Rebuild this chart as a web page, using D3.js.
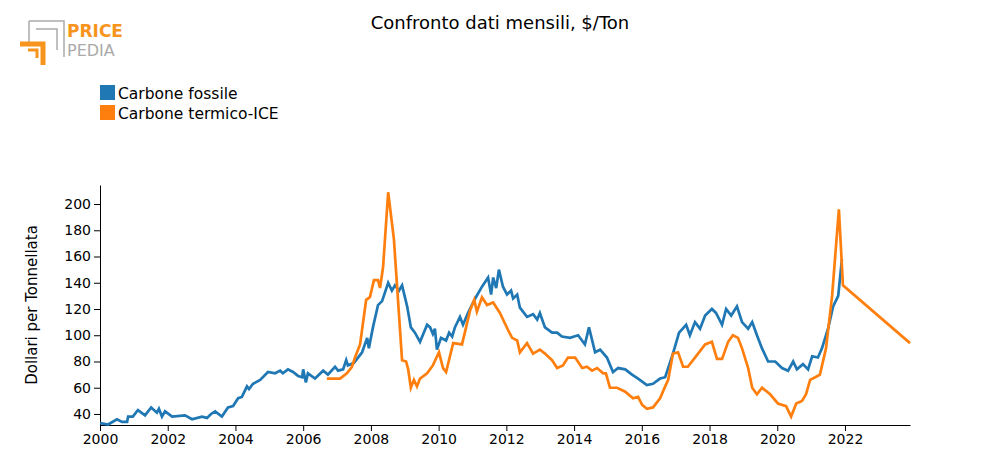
<!DOCTYPE html>
<html><head><meta charset="utf-8">
<script src="https://cdn.jsdelivr.net/npm/d3@7"></script>
<style>body{margin:0;background:#fff;font-family:"DejaVu Sans",sans-serif}</style>
</head><body><svg id="c" width="1000" height="475"></svg>
<script>
const blueYears=[2000,2000.24,2000.5,2000.65,2000.8,2000.83,2000.97,2001.12,2001.33,2001.51,2001.68,2001.74,2001.83,2001.92,2002.13,2002.51,2002.72,2003.01,2003.16,2003.28,2003.4,2003.6,2003.78,2003.93,2004.08,2004.19,2004.34,2004.4,2004.52,2004.73,2004.96,2005.17,2005.32,2005.4,2005.55,2005.7,2005.85,2005.97,2006,2006.08,2006.14,2006.35,2006.59,2006.73,2006.94,2007.03,2007.18,2007.27,2007.32,2007.5,2007.62,2007.74,2007.89,2007.94,2008.06,2008.21,2008.33,2008.51,2008.62,2008.71,2008.83,2008.92,2009.07,2009.18,2009.3,2009.45,2009.66,2009.75,2009.83,2009.89,2009.95,2010.07,2010.22,2010.31,2010.4,2010.48,2010.63,2010.72,2010.87,2011.08,2011.28,2011.46,2011.55,2011.61,2011.7,2011.78,2011.9,2012.02,2012.14,2012.2,2012.32,2012.4,2012.61,2012.79,2012.91,2012.99,2013.14,2013.35,2013.5,2013.64,2013.88,2014.12,2014.32,2014.44,2014.62,2014.77,2014.97,2015.15,2015.3,2015.51,2015.71,2015.89,2016.15,2016.33,2016.54,2016.69,2016.92,2017.1,2017.31,2017.42,2017.57,2017.72,2017.87,2018.07,2018.19,2018.37,2018.49,2018.64,2018.81,2018.96,2019.14,2019.26,2019.4,2019.55,2019.73,2019.94,2020.14,2020.32,2020.47,2020.58,2020.76,2020.91,2021.03,2021.2,2021.32,2021.5,2021.65,2021.8,2021.91];
const blueValues=[33,32,36,34,34,38,38,43,39,45,41,44,38,42,38,39,36,38,37,40,42,38,45,46,52,53,61,59,63,66,72,71,73,71,74,72,69,68,74,64,71,67,73,70,76,73,74,81,77,79,83,87,98,90,106,123,126,140,134,138,134,138,122,106,102,95,108,106,101,105,89,98,96,102,99,106,114,108,117,128,137,144,131,144,136,150,137,131,134,128,131,121,114,116,112,117,106,102,102,99,98,100,93,106,87,89,83,72,75,74,70,67,62,63,67,68,86,102,108,100,110,105,115,120,117,108,120,115,122,110,105,110,100,90,80,80,75,73,80,74,78,74,84,83,90,105,122,130,158];
const orangeYears=[2006.7,2006.88,2007.09,2007.29,2007.44,2007.53,2007.68,2007.86,2007.97,2008.09,2008.21,2008.27,2008.36,2008.51,2008.68,2008.8,2008.92,2009.04,2009.1,2009.18,2009.27,2009.36,2009.45,2009.66,2009.83,2010.01,2010.13,2010.22,2010.43,2010.69,2010.93,2011.05,2011.13,2011.28,2011.43,2011.61,2011.81,2012.05,2012.17,2012.32,2012.4,2012.61,2012.79,2012.99,2013.14,2013.35,2013.5,2013.67,2013.82,2014.03,2014.24,2014.38,2014.53,2014.68,2014.86,2014.94,2015.06,2015.27,2015.51,2015.74,2015.89,2016.01,2016.15,2016.33,2016.54,2016.69,2016.78,2016.92,2017.07,2017.22,2017.36,2017.57,2017.87,2018.07,2018.22,2018.37,2018.55,2018.69,2018.84,2018.96,2019.14,2019.26,2019.4,2019.55,2019.79,2020.02,2020.26,2020.41,2020.56,2020.73,2020.85,2020.97,2021.12,2021.26,2021.44,2021.62,2021.82,2021.94,2023.92];
const orangeValues=[67,67,67,71,76,83,93,127,129,142,142,136,152,209,173,127,81,80,74,60,66,61,67,71,77,87,75,72,94,93,119,127,118,129,123,125,117,104,98,96,87,94,86,89,86,81,75,77,83,83,75,76,73,75,71,71,60,60,57,52,53,47,44,45,52,61,66,86,87,76,76,83,93,95,82,82,95,100,98,90,75,60,55,60,55,48,46,38,48,50,55,66,68,70,90,130,196,138,94];
const xTicks=[2000,2002,2004,2006,2008,2010,2012,2014,2016,2018,2020,2022];
const yTicks=[40,60,80,100,120,140,160,180,200];
const seriesNames=["Carbone fossile","Carbone termico-ICE"];
const colors=["#1f77b4","#ff7f0e"];

const svg=d3.select("#c");
const x=d3.scaleLinear().domain([2000,2023.92]).range([100,910]);
const y=d3.scaleLinear().domain([31.6,214.5]).range([425,185]);
svg.append("text").attr("x",500).attr("y",29).attr("text-anchor","middle").attr("font-size",18).text("Confronto dati mensili, $/Ton");
const gx=svg.append("g").attr("transform","translate(0,425)").call(d3.axisBottom(x).tickValues(xTicks).tickFormat(d3.format("d")).tickSizeOuter(0));
const gy=svg.append("g").attr("transform","translate(100,0)").call(d3.axisLeft(y).tickValues(yTicks).tickSizeOuter(0));
[gx,gy].forEach(g=>{g.selectAll("text").attr("font-size",14).attr("font-family","DejaVu Sans").attr("fill","#000");g.selectAll("line,path").attr("stroke","#000");});
svg.append("text").attr("transform","translate(37,305) rotate(-90)").attr("text-anchor","middle").attr("font-size",15).text("Dollari per Tonnellata");
const line=d3.line().x(d=>x(d[0])).y(d=>y(d[1]));
svg.append("path").datum(blueYears.map((t,i)=>[t,blueValues[i]])).attr("d",line).attr("fill","none").attr("stroke",colors[0]).attr("stroke-width",2.7);
svg.append("path").datum(orangeYears.map((t,i)=>[t,orangeValues[i]])).attr("d",line).attr("fill","none").attr("stroke",colors[1]).attr("stroke-width",2.7);
seriesNames.forEach((n,i)=>{
  svg.append("rect").attr("x",100).attr("y",85+i*20).attr("width",15).attr("height",15).attr("fill",colors[i]);
  svg.append("text").attr("x",118).attr("y",99+i*20).attr("font-size",15.5).text(n);
});
// logo
const lg=svg.append("g");
lg.append("path").attr("d","M29,21 H64 V57 M29,21 V46").attr("fill","none").attr("stroke","#aaa").attr("stroke-width",1.5);
lg.append("path").attr("d","M36,29 H57 V50").attr("fill","none").attr("stroke","#aaa").attr("stroke-width",1.5);
lg.append("path").attr("d","M20,44 H43 V65").attr("fill","none").attr("stroke","#f7941d").attr("stroke-width",5);
lg.append("path").attr("d","M28,50 H37 V58").attr("fill","none").attr("stroke","#f7941d").attr("stroke-width",3);
lg.append("text").attr("x",67).attr("y",37).attr("font-size",17).attr("font-weight","bold").attr("fill","#f7941d").text("PRICE");
lg.append("text").attr("x",67).attr("y",56).attr("font-size",16).attr("fill","#aaa").text("PEDIA");
</script></body></html>
